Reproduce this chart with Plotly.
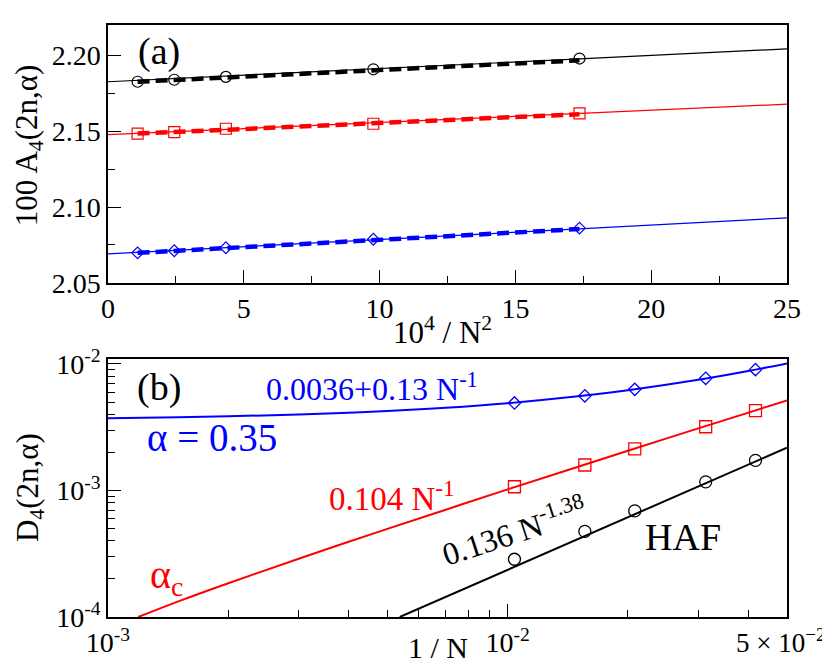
import plotly.graph_objects as go

# ---- panel (a): 100 A4 versus 10^4/N^2 ----
xa = [1.09, 2.44, 4.34, 9.77, 17.36]
a_haf = [2.1826, 2.1839, 2.1858, 2.1908, 2.1979]
a_crit = [2.1484, 2.1494, 2.1516, 2.1549, 2.1618]
a_035 = [2.0698, 2.0712, 2.0732, 2.0788, 2.0861]

# thin solid fits across the whole axis
fit_x = [0, 25]
fit_haf = [2.1826, 2.2043]
fit_crit = [2.1477, 2.1678]
fit_035 = [2.0691, 2.0929]

# thick dashed fits over the data range
dash_x = [1.09, 17.36]
dash_haf = [2.1826, 2.1967]
dash_crit = [2.1484, 2.1612]
dash_035 = [2.0698, 2.0855]

# ---- panel (b): D4 versus 1/N (log-log) ----
xb = [0.0104, 0.0156, 0.0208, 0.0313, 0.0417]
d_035 = [4.92e-3, 5.60e-3, 6.30e-3, 7.70e-3, 9.02e-3]
d_crit = [1.07e-3, 1.59e-3, 2.13e-3, 3.19e-3, 4.28e-3]
d_haf = [2.86e-4, 4.75e-4, 6.90e-4, 1.17e-3, 1.73e-3]

# fit curves
c035_x = [1e-3, 1.5e-3, 2e-3, 3e-3, 4e-3, 5e-3, 7e-3, 1e-2, 1.5e-2, 2e-2, 3e-2, 4e-2, 5e-2]
c035_y = [3.73e-3, 3.80e-3, 3.86e-3, 3.99e-3, 4.12e-3, 4.25e-3, 4.51e-3, 4.90e-3,
          5.55e-3, 6.20e-3, 7.50e-3, 8.80e-3, 1.01e-2]
ccrit_x = [1.19e-3, 1.5e-3, 2e-3, 3e-3, 5e-3, 7e-3, 1e-2, 2e-2, 3e-2, 5e-2]
ccrit_y = [1.0e-4, 1.33e-4, 1.85e-4, 2.89e-4, 4.97e-4, 7.05e-4, 1.02e-3, 2.06e-3,
           3.10e-3, 5.15e-3]
chaf_x = [5.37e-3, 5e-2]
chaf_y = [1.0e-4, 2.18e-3]

BLACK, RED, BLUE = "#000000", "#ff0000", "#0000ff"
FONT = "Liberation Serif, Times New Roman, serif"

# pixel -> paper helpers (plot area spans x 100..779, y 3..609)
def px(x):
    return (x - 100) / 679.0

def py(y):
    return (609 - y) / 606.0

fig = go.Figure()

# panel (a)
for ys, c in [(fit_haf, BLACK), (fit_crit, RED), (fit_035, BLUE)]:
    fig.add_trace(go.Scatter(x=fit_x, y=ys, mode="lines", line=dict(color=c, width=1.2),
                             xaxis="x", yaxis="y"))
for ys, c in [(dash_haf, BLACK), (dash_crit, RED), (dash_035, BLUE)]:
    fig.add_trace(go.Scatter(x=dash_x, y=ys, mode="lines",
                             line=dict(color=c, width=4.5, dash="12px,6px"),
                             xaxis="x", yaxis="y"))
for ys, c, sym, sz in [(a_haf, BLACK, "circle-open", 11), (a_crit, RED, "square-open", 11),
                       (a_035, BLUE, "diamond-open", 9)]:
    fig.add_trace(go.Scatter(x=xa, y=ys, mode="markers",
                             marker=dict(symbol=sym, size=sz, color=c, line=dict(color=c, width=1.2)),
                             xaxis="x", yaxis="y"))

# panel (b)
for xs, ys, c in [(c035_x, c035_y, BLUE), (ccrit_x, ccrit_y, RED), (chaf_x, chaf_y, BLACK)]:
    fig.add_trace(go.Scatter(x=xs, y=ys, mode="lines", line=dict(color=c, width=2, shape="spline"),
                             xaxis="x2", yaxis="y2"))
for ys, c, sym, sz in [(d_035, BLUE, "diamond-open", 9.5), (d_crit, RED, "square-open", 12),
                       (d_haf, BLACK, "circle-open", 12)]:
    fig.add_trace(go.Scatter(x=xb, y=ys, mode="markers",
                             marker=dict(symbol=sym, size=sz, color=c, line=dict(color=c, width=1.3)),
                             xaxis="x2", yaxis="y2"))

tick_font = dict(family=FONT, size=28, color=BLACK)
axis_common = dict(showline=True, mirror=True, linecolor=BLACK, linewidth=1.5,
                   showgrid=False, zeroline=False, ticks="inside", ticklen=13,
                   tickwidth=1.2, tickcolor=BLACK, tickfont=tick_font)

minor_x_log = [k * 1e-3 for k in range(2, 10)] + [k * 1e-2 for k in range(2, 5)]
minor_y_log = [k * 10.0 ** e for e in (-4, -3) for k in range(2, 10)]

fig.update_layout(
    width=830, height=664,
    margin=dict(l=100, r=51, t=3, b=55),
    paper_bgcolor="white", plot_bgcolor="white",
    font=dict(family=FONT, size=28, color=BLACK),
    showlegend=False,
    xaxis=dict(axis_common, domain=[0, 1], anchor="y", range=[0, 25],
               tickmode="linear", tick0=0, dtick=5,
               minor=dict(ticks="inside", ticklen=7, tickwidth=1.2, tickcolor=BLACK,
                          tick0=0, dtick=2.5)),
    yaxis=dict(axis_common, domain=[py(267), 1], anchor="x", range=[2.05, 2.22],
               tickmode="linear", tick0=2.05, dtick=0.05, tickformat=".2f",
               minor=dict(ticks="inside", ticklen=7, tickwidth=1.2, tickcolor=BLACK,
                          tick0=2.05, dtick=0.025)),
    xaxis2=dict(axis_common, domain=[0, 1], anchor="y2", type="log",
                range=[-3, -1.30103],
                tickmode="array", tickvals=[1e-3, 1e-2, 5e-2],
                ticktext=["10<sup>-3</sup>", "10<sup>-2</sup>", ""],
                minor=dict(ticks="inside", ticklen=7, tickwidth=1.2, tickcolor=BLACK,
                           tickmode="array", tickvals=minor_x_log)),
    yaxis2=dict(axis_common, domain=[0, py(345)], anchor="x2", type="log",
                range=[-4, -1.9614],
                tickmode="array", tickvals=[1e-4, 1e-3, 1e-2],
                ticktext=["10<sup>-4</sup>", "10<sup>-3</sup>", "10<sup>-2</sup>"],
                minor=dict(ticks="inside", ticklen=7, tickwidth=1.2, tickcolor=BLACK,
                           tickmode="array", tickvals=minor_y_log)),
)

def note(text, x, y, size, color=BLACK, angle=0):
    fig.add_annotation(text=text, x=px(x), y=py(y), xref="paper", yref="paper",
                       showarrow=False, textangle=angle, xanchor="center", yanchor="middle",
                       font=dict(family=FONT, size=size, color=color))

# right-end tick label of the lower x axis (kept inside the page)
note("5 × 10<sup>−2</sup>", 772, 634, 27)

# axis titles
note("100 A<sub>4</sub>(2n,α)", 21, 127, 31, angle=-90)
note("10<sup>4</sup> / N<sup>2</sup>", 434, 316, 31)
note("D<sub>4</sub>(2n,α)", 22, 477, 31, angle=-90)
note("1 / N", 430, 640, 30)

# panel labels and fit texts
note("(a)", 151, 30, 38)
note("(b)", 151, 374, 38)
note("0.0036+0.13 N<sup>-1</sup>", 364, 374, 32, BLUE)
note("α = 0.35", 204, 425, 39, BLUE)
note("0.104 N<sup>-1</sup>", 384, 485, 33, RED)
note("α<sub>c</sub>", 158, 568, 40, RED)
note("0.136 N<sup>-1.38</sup>", 506, 520, 32, BLACK, angle=-18)
note("HAF", 675, 527, 38)

fig.write_html("out.html")
